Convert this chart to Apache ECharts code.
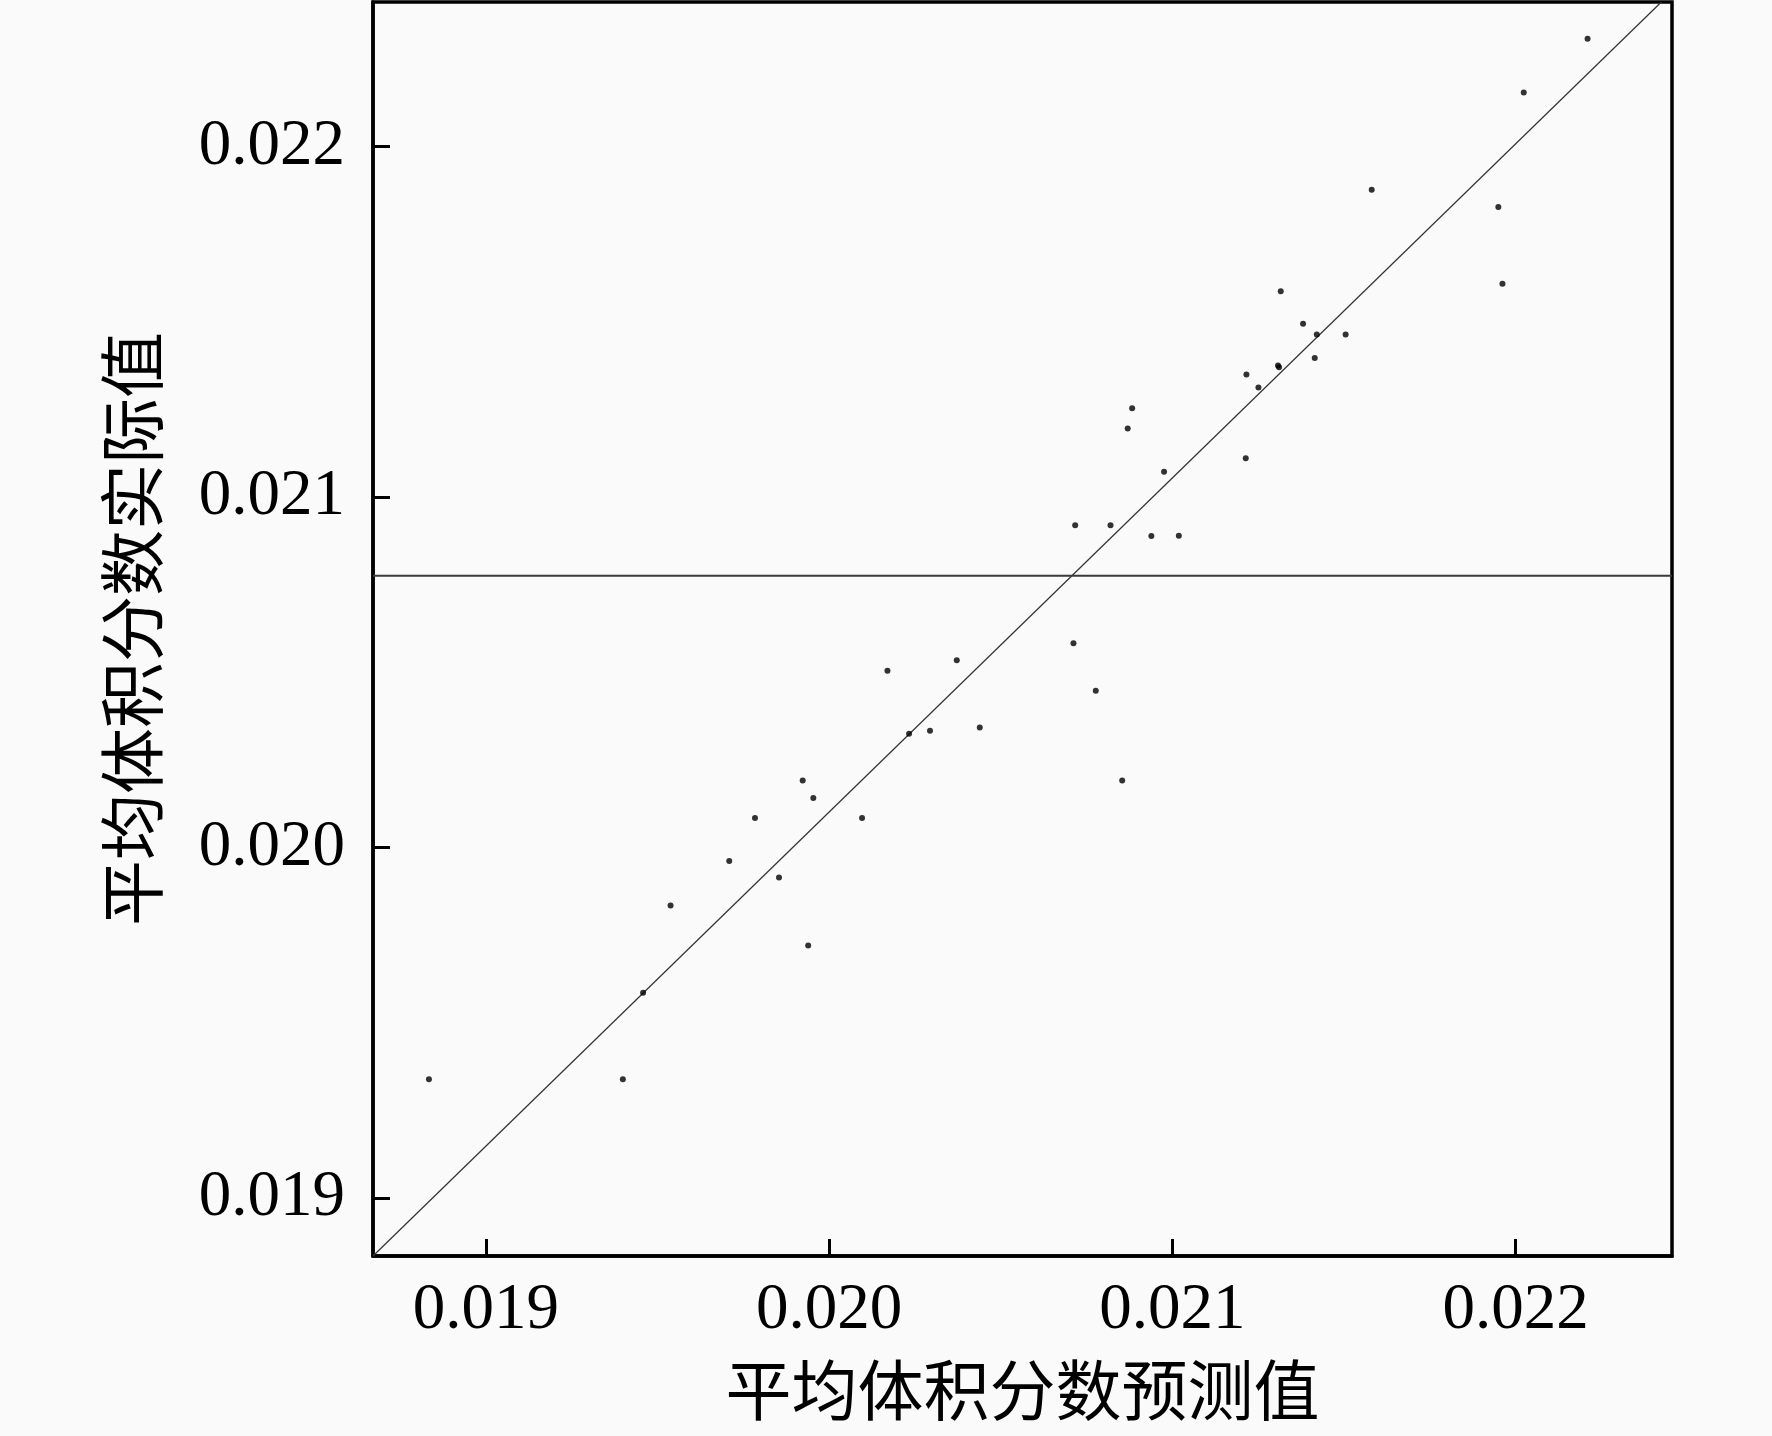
<!DOCTYPE html>
<html>
<head>
<meta charset="utf-8">
<script src="https://cdn.jsdelivr.net/npm/echarts@6/dist/echarts.min.js"></script>
<style>
html,body{margin:0;padding:0;background:#fafafa;}
#chart{width:1772px;height:1436px;}
</style>
</head>
<body>
<div id="chart"></div>
<script>
// Predicted (x) and actual (y) mean volume fraction
const predicted = [0.018834,0.019399,0.019458,0.019538,0.019709,0.019784,0.019854,0.019923,0.019954,0.019939,
  0.020096,0.020170,0.020233,0.020294,0.020372,0.020439,0.020712,0.020777,0.020854,0.020717,
  0.020820,0.020939,0.021019,0.020976,0.020870,0.020883,0.021214,0.021216,0.021251,0.021311,
  0.021308,0.021316,0.021381,0.021421,0.021415,0.021505,0.021581,0.021950,0.021962,0.022024,0.022210];
const actual = [0.019339,0.019339,0.019586,0.019835,0.019962,0.020085,0.019915,0.020192,0.020142,0.019721,
  0.020085,0.020505,0.020325,0.020334,0.020535,0.020343,0.020583,0.020448,0.020192,0.020920,
  0.020920,0.020889,0.020890,0.021073,0.021196,0.021254,0.021111,0.021350,0.021313,0.021371,
  0.021376,0.021588,0.021495,0.021464,0.021397,0.021464,0.021877,0.021828,0.021609,0.022155,0.022308];
const fitLineX = [0.018671, 0.022425];
const fitLineY = [0.018835, 0.022413];
const meanActual = 0.020776;
const xTicks = [0.019, 0.020, 0.021, 0.022];
const yTicks = [0.019, 0.020, 0.021, 0.022];
const xName = '平均体积分数预测值';
const yName = '平均体积分数实际值';

const chart = echarts.init(document.getElementById('chart'), null, {renderer:'canvas'});
const serif = "Liberation Serif, Times New Roman, serif";
const cjk = "Liberation Serif, Noto Sans CJK SC, serif";
const axisCommon = {
  type: 'value',
  axisLine: {show: true, onZero: false, lineStyle: {color: '#000', width: 3.5}},
  splitLine: {show: false},
  minorTick: {show: false}
};
chart.setOption({
  backgroundColor: '#fafafa',
  animation: false,
  grid: {left: 373, top: 2, width: 1299, height: 1256, show: true, borderColor: '#000', borderWidth: 3.5, backgroundColor: 'transparent'},
  xAxis: Object.assign({}, axisCommon, {
    min: 0.018671, max: 0.022456,
    axisTick: {show: true, inside: true, length: 17, lineStyle: {color: '#000', width: 3}, customValues: xTicks},
    axisLabel: {show: true, customValues: xTicks, margin: 22, fontSize: 65, fontFamily: serif, color: '#000',
      formatter: v => v.toFixed(3)},
    name: xName, nameLocation: 'middle', nameGap: 109,
    nameTextStyle: {fontSize: 66, fontFamily: cjk, color: '#000'}
  }),
  yAxis: Object.assign({}, axisCommon, {
    min: 0.018835, max: 0.022413,
    axisTick: {show: true, inside: true, length: 17, lineStyle: {color: '#000', width: 3}, customValues: yTicks},
    axisLabel: {show: true, customValues: yTicks, margin: 28, fontSize: 65, fontFamily: serif, color: '#000',
      formatter: v => v.toFixed(3)},
    name: yName, nameLocation: 'middle', nameGap: 200, nameRotate: 90,
    nameTextStyle: {fontSize: 66, fontFamily: cjk, color: '#000'}
  }),
  series: [
    {
      type: 'line',
      data: fitLineX.map((x, i) => [x, fitLineY[i]]),
      symbol: 'none',
      lineStyle: {color: '#333', width: 1.2},
      z: 2
    },
    {
      type: 'line',
      data: [[0.018671, meanActual], [0.022456, meanActual]],
      symbol: 'none',
      lineStyle: {color: '#3a3a3a', width: 1.8},
      z: 2
    },
    {
      type: 'scatter',
      data: predicted.map((x, i) => [x, actual[i]]),
      symbol: 'circle',
      symbolSize: 6,
      itemStyle: {color: '#000'},
      z: 3
    }
  ]
});
</script>
</body>
</html>
